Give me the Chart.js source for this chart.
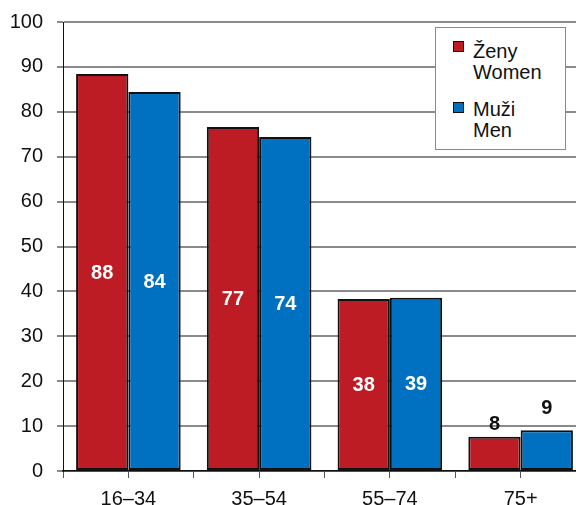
<!DOCTYPE html>
<html>
<head>
<meta charset="utf-8">
<script src="https://cdn.jsdelivr.net/npm/chart.js@4/dist/chart.umd.min.js"></script>
<style>
  html, body { margin: 0; padding: 0; background: #fff; }
  #wrap { position: relative; width: 576px; height: 505px; overflow: hidden; }
  #c { position: absolute; left: 0; top: 0; }
  #legend { position: absolute; left: 435px; top: 27px; width: 129px; height: 121px;
            border: 1px solid #8a8a8a; background: #fff;
            font-family: "Liberation Sans", Arial, sans-serif; font-size: 20px; color: #111; }
  .mk { position: absolute; left: 17px; width: 9px; height: 9px; border: 1.5px solid #111; }
  .tx { position: absolute; left: 37px; line-height: 21px; white-space: nowrap; }
</style>
</head>
<body>
<div id="wrap">
  <canvas id="c" width="586" height="505" style="width:586px;height:505px"></canvas>
  <div id="legend"></div>
</div>
<script>
const categories = ["16–34", "35–54", "55–74", "75+"];
const women = [88.4, 76.6, 38.3, 7.65];
const men = [84.4, 74.4, 38.6, 9.1];
const seriesNames = [["Ženy", "Women"], ["Muži", "Men"]];
const yTicks = [0, 10, 20, 30, 40, 50, 60, 70, 80, 90, 100];

const RED = "#BE1C24";
const BLUE = "#0070C0";
const FONT = "'Liberation Sans', Arial, sans-serif";

// HTML legend (real text)
const legendColors = [RED, BLUE];
const legendEl = document.getElementById("legend");
const markerTops = [13, 74];
const textTops = [13, 71];
seriesNames.forEach((lines, i) => {
  const mk = document.createElement("div");
  mk.className = "mk";
  mk.style.top = markerTops[i] + "px";
  mk.style.background = legendColors[i];
  legendEl.appendChild(mk);
  const tx = document.createElement("div");
  tx.className = "tx";
  tx.style.top = textTops[i] + "px";
  tx.innerHTML = lines.join("<br>");
  legendEl.appendChild(tx);
});

const valueLabels = {
  id: "valueLabels",
  afterDatasetsDraw(chart, args, opts) {
    const ctx = chart.ctx;
    ctx.save();
    ctx.font = "bold 20px " + FONT;
    ctx.textAlign = "center";
    chart.data.datasets.forEach((ds, di) => {
      const meta = chart.getDatasetMeta(di);
      meta.data.forEach((el, i) => {
        const v = ds.data[i];
        const txt = String(Math.round(v));
        if (v >= 20) {
          ctx.fillStyle = "#fff";
          ctx.textBaseline = "middle";
          ctx.fillText(txt, el.x, (el.y + el.base) / 2 + 1);
        } else {
          ctx.fillStyle = "#111";
          ctx.textBaseline = "alphabetic";
          ctx.fillText(txt, el.x, el.y - opts.above[di]);
        }
      });
    });
    ctx.restore();
  }
};

new Chart(document.getElementById("c"), {
  type: "bar",
  data: {
    labels: categories,
    datasets: [
      { label: seriesNames[0].join(" "), data: women, backgroundColor: RED,
        borderColor: "#111", borderWidth: 2, borderSkipped: false },
      { label: seriesNames[1].join(" "), data: men, backgroundColor: BLUE,
        borderColor: "#111", borderWidth: 2, borderSkipped: false }
    ]
  },
  options: {
    responsive: false,
    animation: false,
    devicePixelRatio: 1,
    layout: { padding: { top: 22, left: 0, right: 0, bottom: 0 } },
    datasets: { bar: { categoryPercentage: 0.8, barPercentage: 1.0 } },
    plugins: {
      legend: { display: false },
      tooltip: { enabled: false },
      valueLabels: { above: [7, 16] }
    },
    scales: {
      x: {
        type: "category",
        position: "bottom",
        weight: 0,
        offset: true,
        grid: { display: true, drawOnChartArea: false, offset: true, tickLength: 7,
                color: "#555", lineWidth: 1 },
        border: { display: true, color: "#111", width: 1.5 },
        ticks: { color: "#111", font: { family: FONT, size: 20 }, padding: 9, maxRotation: 0 },
        afterFit: (s) => { s.height = 34; s.paddingLeft = 0; s.paddingRight = 0; }
      },
      x2: {
        type: "category",
        position: "bottom",
        weight: -1,
        offset: true,
        grid: { display: true, drawOnChartArea: false, offset: false, tickLength: 7,
                color: "#555", lineWidth: 1 },
        border: { display: false },
        ticks: { display: false },
        afterFit: (s) => { s.height = 0; }
      },
      y: {
        min: 0, max: 100,
        afterBuildTicks: (s) => { s.ticks = yTicks.map(v => ({ value: v })); },
        grid: { color: "#8a8a8a", lineWidth: 2, tickLength: 6, drawTicks: true },
        border: { display: true, color: "#111", width: 1 },
        ticks: { color: "#111", font: { family: FONT, size: 20 }, padding: 14 },
        afterFit: (s) => { s.width = 63; s.paddingTop = 0; s.paddingBottom = 0; }
      }
    }
  },
  plugins: [valueLabels]
});
</script>
</body>
</html>
